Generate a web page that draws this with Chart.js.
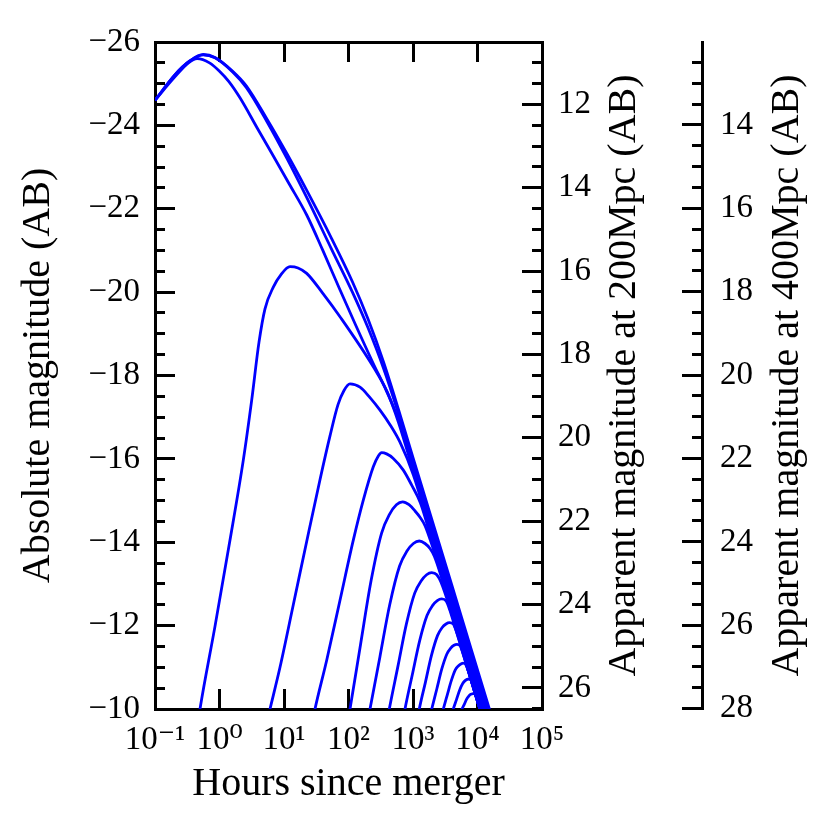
<!DOCTYPE html>
<html>
<head>
<meta charset="utf-8">
<script src="https://cdn.jsdelivr.net/npm/chart.js@4.4.1/dist/chart.umd.min.js"></script>
<style>
html,body{margin:0;padding:0;background:#ffffff;}
#wrap{width:831px;height:830px;}
</style>
</head>
<body>
<div id="wrap"><canvas id="c" width="831" height="830"></canvas></div>
<script>
// ---- tick values and labels ----
const xTickValues = [0.1, 1, 10, 100, 1000, 10000, 100000];
const xTickLabels = ['10\u207B\u00B9', '10\u2070', '10\u00B9', '10\u00B2', '10\u00B3', '10\u2074', '10\u2075'];
const absTicks = [-26, -24, -22, -20, -18, -16, -14, -12, -10];
const absTickLabels = ['\u221226', '\u221224', '\u221222', '\u221220', '\u221218', '\u221216', '\u221214', '\u221212', '\u221210'];
const app200Ticks = [12, 14, 16, 18, 20, 22, 24, 26];
const app200Labels = ['12', '14', '16', '18', '20', '22', '24', '26'];
const app400Ticks = [14, 16, 18, 20, 22, 24, 26, 28];
const app400Labels = ['14', '16', '18', '20', '22', '24', '26', '28'];
const absMin = -26, absMax = -10;
const distMod200 = 36.505;   // 5 log10(200 Mpc / 10 pc)
const distMod400 = 38.010;   // 5 log10(400 Mpc / 10 pc)

// ---- light curves: [hours since merger, absolute magnitude] ----
const curveA1 = [[0.1,-24.6],[0.2,-25.2],[0.35,-25.55],[0.56,-25.7],[0.85,-25.63],[1.6,-25.3],[2.6,-24.95],[5.4,-24.16],[11,-23.33],[22,-22.47],[55,-21.28],[115,-20.25],[200,-19.36],[350,-18.32],[600,-17.17],[1000,-16.03],[2000,-14.5],[4000,-12.97],[8000,-11.43],[20000,-9.41]];
const curveA2 = [[0.1,-24.6],[0.2,-25.2],[0.35,-25.55],[0.56,-25.69],[0.85,-25.62],[1.6,-25.28],[2.6,-24.91],[5.4,-24.1],[11,-23.22],[22,-22.3],[55,-21.02],[115,-20.0],[200,-19.15],[350,-18.17],[600,-17.07],[1000,-15.93],[2000,-14.4],[4000,-12.87],[8000,-11.33],[20000,-9.31]];
const curveB  = [[0.1,-24.6],[0.2,-25.15],[0.33,-25.5],[0.45,-25.6],[0.7,-25.5],[1.0,-25.3],[1.4,-25.05],[2.1,-24.65],[3.8,-23.95],[6.8,-23.27],[12,-22.6],[22.5,-21.85],[40,-21.0],[74,-20.05],[130,-19.2],[240,-18.3],[390,-17.62],[600,-16.93],[1000,-15.83],[2000,-14.3],[4000,-12.77],[8000,-11.23],[20000,-9.21]];
const curveC  = [[0.4776,-9.8],[0.4985,-10],[0.8486,-11.97],[1.424,-13.97],[2.339,-15.97],[3.156,-17.41],[4.097,-18.8],[5.074,-19.6],[6.826,-20.12],[8.98,-20.42],[12.39,-20.61],[16.49,-20.58],[22.48,-20.45],[40,-19.97],[73.83,-19.41],[242.3,-18.21],[400,-17.6],[600,-16.86],[1000,-15.73],[2000,-14.2],[4000,-12.67],[8000,-11.13],[20000,-9.11]];
const curveD  = [[5.751,-9.85],[6.066,-10],[8.67,-11.0],[13.94,-12.5],[22.48,-14.02],[36.14,-15.5],[51.67,-16.55],[68.74,-17.3],[85.17,-17.64],[105.5,-17.8],[150.8,-17.72],[215.4,-17.47],[307.9,-17.17],[440,-16.82],[628.5,-16.4],[1011,-15.62],[2000,-14.1],[4000,-12.57],[8000,-11.03],[20000,-9.01]];
const curveE  = [[28.67,-9.82],[30.24,-10],[45.92,-11.17],[73.83,-12.61],[118.7,-14.05],[169.6,-15.01],[242.3,-15.81],[290,-16.07],[327.1,-16.15],[390,-16.12],[495,-16.01],[707.5,-15.73],[954.5,-15.37],[1300,-14.95],[2000,-14.0],[4000,-12.47],[8000,-10.93],[20000,-8.91]];
const curveF  = [[100,-9.8],[105.5,-10],[153.5,-11.54],[224.1,-13.08],[326,-14.22],[432.3,-14.67],[552.8,-14.9],[692,-14.97],[867,-14.9],[1074,-14.75],[1284,-14.6],[1535,-14.4],[2000,-13.9],[4000,-12.37],[8000,-10.83],[20000,-8.81]];
const curveG  = [[200.6,-9.75],[215.4,-10],[306.8,-11.25],[435.4,-12.5],[619.7,-13.43],[807,-13.79],[1014,-13.97],[1252,-14.03],[1535,-13.97],[1834,-13.85],[2150,-13.66],[4000,-12.32],[8000,-10.78],[20000,-8.76]];
const curveH  = [[406.8,-9.8],[429.1,-10],[581.4,-11.01],[787.3,-12.03],[1063,-12.78],[1335,-13.07],[1625,-13.22],[1950,-13.27],[2339,-13.22],[2718,-13.04],[4000,-12.27],[8000,-10.73],[20000,-8.71]];
const curveI  = [[715.2,-9.8],[751.6,-10],[975.2,-10.82],[1270,-11.64],[1649,-12.24],[2006,-12.48],[2381,-12.6],[2786,-12.64],[3260,-12.59],[3747,-12.36],[4000,-12.22],[8000,-10.68],[20000,-8.66]];
const curveJ  = [[1204,-9.85],[1252,-10],[1557,-10.64],[1929,-11.28],[2398,-11.76],[2816,-11.95],[3248,-12.04],[3694,-12.07],[4201,-12.04],[4642,-11.89],[8000,-10.68],[20000,-8.66]];
const curveK  = [[1881,-9.9],[1950,-10],[2339,-10.48],[2795,-10.96],[3354,-11.32],[3841,-11.46],[4322,-11.53],[4810,-11.55],[5355,-11.52],[5961,-11.33],[8000,-10.68],[20000,-8.66]];
const curveL  = [[2867,-9.93],[2950,-10],[3402,-10.34],[3925,-10.68],[4527,-10.94],[5038,-11.03],[5528,-11.08],[6024,-11.1],[6565,-11.07],[7384,-10.86],[8000,-10.68],[20000,-8.66]];
const curveM  = [[4126,-9.95],[4216,-10],[4709,-10.22],[5279,-10.45],[5897,-10.61],[6425,-10.68],[6899,-10.71],[7384,-10.72],[7903,-10.7],[8826,-10.47],[12000,-9.79],[20000,-8.66]];
const curveN  = [[5670,-9.97],[5751,-10],[6242,-10.11],[6753,-10.23],[7330,-10.31],[7788,-10.35],[8189,-10.36],[8608,-10.37],[9049,-10.36],[10180,-10.15],[20000,-8.66]];

const curves = [curveA1, curveA2, curveB, curveC, curveD, curveE, curveF, curveG, curveH, curveI, curveJ, curveK, curveL, curveM, curveN];

const xTitle = 'Hours since merger';
const yTitle = 'Absolute magnitude (AB)';
const y2Title = 'Apparent magnitude at 200Mpc (AB)';
const y3Title = 'Apparent magnitude at 400Mpc (AB)';

// ---- styling ----
const serif = "'Liberation Serif','DejaVu Serif',serif";
const black = '#000000';
const lineBlue = '#0000ff';
const tickFont = {family: serif, size: 33};
const titleFont = {family: serif, size: 40};

function fixedTicks(values) {
  return function (scale) { scale.ticks = values.map(v => ({value: v})); };
}
function minorTicks(min, max, step) {
  const out = [];
  const start = Math.ceil(min / step - 1e-9);
  const end = Math.floor(max / step + 1e-9);
  for (let k = start; k <= end; k++) out.push(+(k * step).toFixed(4));
  return out;
}
// zero-width helper scale that only draws inward tick marks
function markScale(position, weight, min, max, values, len) {
  return {
    type: 'linear', position, weight, min, max, reverse: true,
    afterBuildTicks: fixedTicks(values),
    afterFit: s => { s.width = 0; },
    grid: {drawOnChartArea: false, drawTicks: true, tickLength: -len, tickWidth: 3, tickColor: black, color: black},
    border: {display: false},
    ticks: {display: false}
  };
}
const labelGrid = {drawOnChartArea: false, drawTicks: false};

const rightTitlePlugin = {
  id: 'rightTitles',
  afterDraw(chart) {
    const ctx = chart.ctx;
    const items = [
      {scale: chart.scales.y2, text: y2Title, dx: 82},
      {scale: chart.scales.y3, text: y3Title, dx: 85}
    ];
    ctx.save();
    ctx.font = titleFont.size + 'px ' + serif;
    ctx.fillStyle = black;
    ctx.textAlign = 'center';
    ctx.textBaseline = 'middle';
    for (const it of items) {
      const s = it.scale;
      ctx.save();
      ctx.translate(s.left + it.dx, (s.top + s.bottom) / 2);
      ctx.rotate(-Math.PI / 2);
      ctx.fillText(it.text, 0, 0);
      ctx.restore();
    }
    ctx.restore();
  }
};

const datasets = curves.map(c => ({
  data: c.map(p => ({x: p[0], y: p[1]})),
  borderColor: lineBlue,
  borderWidth: 2.8,
  pointRadius: 0,
  fill: false,
  cubicInterpolationMode: 'monotone',
  xAxisID: 'x',
  yAxisID: 'y'
}));

const min200 = absMin + distMod200, max200 = absMax + distMod200;
const min400 = absMin + distMod400, max400 = absMax + distMod400;

new Chart(document.getElementById('c'), {
  type: 'line',
  data: {datasets},
  plugins: [rightTitlePlugin],
  options: {
    responsive: false,
    animation: false,
    events: [],
    layout: {padding: 0},
    plugins: {legend: {display: false}, tooltip: {enabled: false}, title: {display: false}},
    scales: {
      x: {
        type: 'logarithmic', position: 'bottom', min: 0.1, max: 100000,
        afterBuildTicks: fixedTicks(xTickValues),
        afterFit: s => { s.height = 121; },
        grid: {drawOnChartArea: false, drawTicks: true, tickLength: -20, tickWidth: 3, tickColor: black, color: black},
        border: {display: true, width: 3, color: black},
        ticks: {autoSkip: false, maxRotation: 0, minRotation: 0, padding: 32, color: black, font: tickFont,
                callback: (v, i) => xTickLabels[i]},
        title: {display: true, text: xTitle, color: black, font: titleFont, padding: {top: 0, bottom: 22}}
      },
      xTop: {
        type: 'logarithmic', position: 'top', min: 0.1, max: 100000,
        afterBuildTicks: fixedTicks(xTickValues),
        afterFit: s => { s.height = 42; },
        grid: {drawOnChartArea: false, drawTicks: true, tickLength: -20, tickWidth: 3, tickColor: black, color: black},
        border: {display: true, width: 3, color: black},
        ticks: {display: false}
      },
      y: {
        type: 'linear', position: 'left', weight: 2, min: absMin, max: absMax, reverse: true,
        afterBuildTicks: fixedTicks(absTicks),
        afterFit: s => { s.width = 155; },
        grid: labelGrid,
        border: {display: true, width: 3, color: black},
        ticks: {autoSkip: false, padding: 15, color: black, font: tickFont, callback: (v, i) => absTickLabels[i]},
        title: {display: true, text: yTitle, color: black, font: titleFont, padding: {top: 14, bottom: 0}}
      },
      yMajor: markScale('left', 1, absMin, absMax, absTicks, 20),
      yMinor: markScale('left', 0, absMin, absMax, minorTicks(absMin, absMax, 0.5), 10),
      y2Major: markScale('right', 0, min200, max200, app200Ticks, 20),
      y2Minor: markScale('right', 1, min200, max200, minorTicks(min200, max200, 0.5), 10),
      y2: {
        type: 'linear', position: 'right', weight: 2, min: min200, max: max200, reverse: true,
        afterBuildTicks: fixedTicks(app200Ticks),
        afterFit: s => { s.width = 160; },
        grid: labelGrid,
        border: {display: true, width: 3, color: black},
        ticks: {autoSkip: false, padding: 16, color: black, font: tickFont, callback: (v, i) => app200Labels[i]}
      },
      y3Major: markScale('right', 3, min400, max400, app400Ticks, 20),
      y3Minor: markScale('right', 4, min400, max400, minorTicks(min400, max400, 0.5), 10),
      y3: {
        type: 'linear', position: 'right', weight: 5, min: min400, max: max400, reverse: true,
        afterBuildTicks: fixedTicks(app400Ticks),
        afterFit: s => { s.width = 129; },
        grid: labelGrid,
        border: {display: true, width: 3, color: black},
        ticks: {autoSkip: false, padding: 18, color: black, font: tickFont, callback: (v, i) => app400Labels[i]}
      }
    }
  }
});
</script>
</body>
</html>
